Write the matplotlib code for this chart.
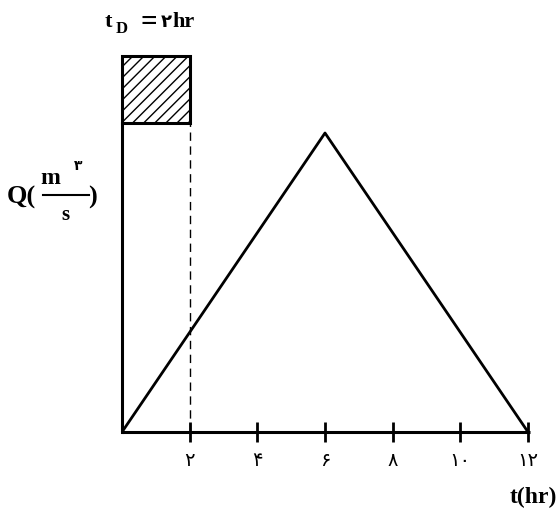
import matplotlib
matplotlib.use("Agg")
import matplotlib.pyplot as plt
from matplotlib.patches import Rectangle

# data
hydro_t = [0, 6, 12]
hydro_q = [0, 1.0, 0]
rain_start, rain_end = 0, 2
rain_bottom, rain_top = 1.033, 1.258
xticks = [2, 4, 6, 8, 10, 12]
xtick_labels = ["۲", "۴", "۶", "۸", "۱۰", "۱۲"]

W, H = 559, 513
plt.rcParams["hatch.linewidth"] = 1.0
fig = plt.figure(figsize=(W / 100, H / 100), dpi=100)
fig.patch.set_facecolor("white")

left_px, right_px, base_px = 122, 528, 432
ax = fig.add_axes([left_px / W, (H - base_px) / H, (right_px - left_px) / W, base_px / H])
ax.set_xlim(0, 12)
ax.set_ylim(0, 432 / 299)
ax.patch.set_alpha(0)

for s in ["top", "right"]:
    ax.spines[s].set_visible(False)
ax.spines["bottom"].set_linewidth(2.2)
ax.spines["left"].set_linewidth(2.2)
ax.spines["bottom"].set_bounds(0, 12.06)
ax.spines["left"].set_bounds(0, rain_bottom)
ax.spines["bottom"].set_capstyle("butt")

ax.plot(hydro_t, hydro_q, color="black", lw=2.0, solid_capstyle="butt", clip_on=False)

ax.add_patch(Rectangle((rain_start, rain_bottom), rain_end - rain_start, rain_top - rain_bottom,
                       facecolor="white", edgecolor="black", lw=2.2, hatch="///", clip_on=False))

ax.plot([rain_end, rain_end], [0, rain_bottom], color="black", lw=1.0, ls=(0, (6, 4)))

ax.set_xticks(xticks)
ax.set_xticklabels(xtick_labels, family=["DejaVu Sans"], fontsize=14)
ax.tick_params(axis="x", direction="inout", length=14, width=2, pad=7)
ax.set_yticks([])

serif = ["Liberation Serif", "DejaVu Sans"]
def ftext(x, y, s, size=15, ha="left", va="center", fam=serif, weight="bold"):
    fig.text(x / W, 1 - y / H, s, fontsize=size, ha=ha, va=va, family=fam, fontweight=weight)

# t_D label
ftext(105, 22, "t", 16)
ftext(116, 29, "D", 12)
ftext(140, 23, "=", 21)
ftext(161, 22, "۲", 13, fam=["DejaVu Sans"])
ftext(172, 22, "hr", 16)

# Q label
ftext(7, 197, "Q(", 19)
ftext(40, 178, "m", 17)
ftext(74, 166, "۳", 10, fam=["DejaVu Sans"])
fig.add_artist(plt.Line2D([43 / W, 89 / W], [1 - 195 / H, 1 - 195 / H], color="black", lw=1.5))
ftext(61, 215, "s", 15)
ftext(88, 197, ")", 19)

# t(hr)
ftext(557, 497, "t(hr)", 17, ha="right")

fig.savefig("out.png", dpi=100, facecolor="white")
